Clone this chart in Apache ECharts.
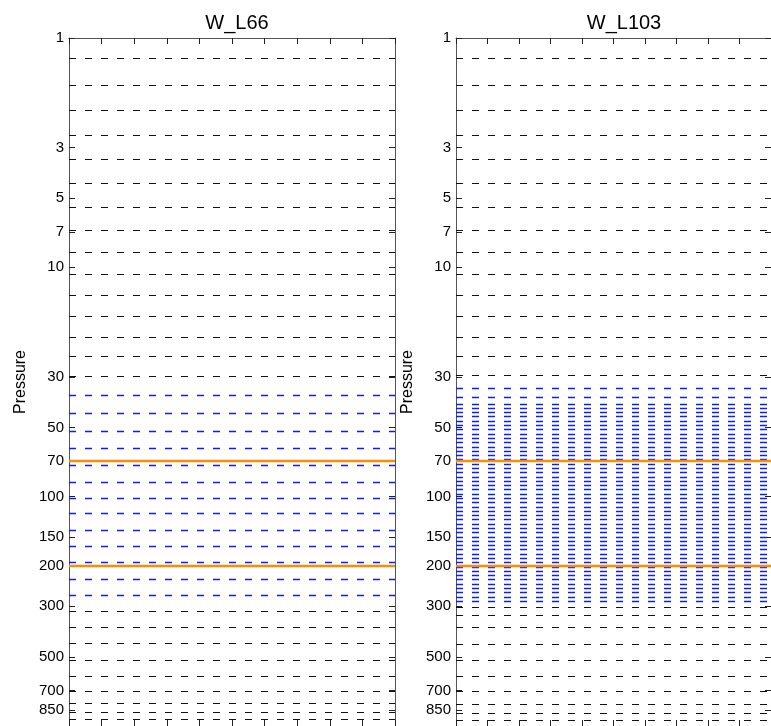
<!DOCTYPE html>
<html>
<head>
<meta charset="utf-8">
<script src="https://cdn.jsdelivr.net/npm/echarts@6/dist/echarts.min.js"></script>
<style>
  html, body { margin: 0; padding: 0; background: #fff; }
  #chart { width: 771px; height: 726px; }
</style>
</head>
<body>
<div id="chart"></div>
<script>
// Panel titles (vertical grid configurations)
const panelTitles = ['W_L66', 'W_L103'];

// Pressure tick labels on the vertical axis (hPa)
const pressureTicks = [1, 3, 5, 7, 10, 30, 50, 70, 100, 150, 200, 300, 500, 700, 850];

// Reference pressures drawn as solid orange lines (hPa)
const markerLevels = [70, 200];

// W_L66 model levels (hPa): upper, refined (blue) and lower bands
const l66Upper = [1.23, 1.60, 2.06, 2.66, 3.38, 4.30, 5.45, 6.86, 8.57, 10.7, 13.3, 16.4, 20.1, 24.5, 29.8];
const l66Mid = [36.0, 43.3, 52.0, 61.8, 73.3, 86.1, 101.3, 118.6, 140, 165, 194, 228, 268];
const l66Lower = [316, 372, 437, 517, 606, 702, 797, 875, 938];

// W_L103 model levels (hPa)
const l103Upper = [1.23, 1.60, 2.06, 2.66, 3.38, 4.30, 5.45, 6.86, 8.57, 10.7, 13.3, 16.4, 20.1, 24.5, 29.6];
const l103Mid = [33.6, 36.7, 39.4, 41.1, 43.0, 44.8, 46.8, 48.9, 51.0, 53.3, 55.6, 58.0, 60.6, 63.3,
  66.0, 69.0, 72.0, 75.1, 78.5, 81.9, 85.5, 89.3, 93.2, 97.3, 101.6, 106.0, 110.7, 115.6, 120.6,
  125.9, 131.5, 137.3, 143.3, 149.6, 156.2, 163.0, 170.2, 177.7, 185.5, 193.7, 202.2, 211.1,
  220.4, 230.0, 240.2, 250.7, 261.7, 273.3, 285.3];
const l103Lower = [303, 328, 372, 438, 517, 606, 702, 800, 878, 940];

const panels = [
  { title: panelTitles[0], black: l66Upper.concat(l66Lower), blue: l66Mid },
  { title: panelTitles[1], black: l103Upper.concat(l103Lower), blue: l103Mid }
];

const FONT = '"Liberation Sans", Arial, Helvetica, sans-serif';
const gridLefts = [69, 456];
const gridWidth = 326;
const gridTop = 38;
const gridHeight = 690;
const dashPattern = [7, 9];

const chart = echarts.init(document.getElementById('chart'), null, { renderer: 'canvas' });

const grids = [], xAxes = [], yAxes = [], series = [], titles = [];

panels.forEach((panel, i) => {
  grids.push({ left: gridLefts[i], top: gridTop, width: gridWidth, height: gridHeight, containLabel: false });

  titles.push({
    text: panel.title,
    left: gridLefts[i] + gridWidth / 2,
    top: 8,
    textAlign: 'center',
    textStyle: { fontFamily: FONT, fontSize: 20, fontWeight: 'normal', color: '#000' }
  });

  ['bottom', 'top'].forEach(pos => {
    xAxes.push({
      gridIndex: i, type: 'value', position: pos, min: 0, max: 10, interval: 1,
      axisLine: { show: true, onZero: false, lineStyle: { color: '#555', width: 1 } },
      axisTick: { show: true, inside: true, length: 6, lineStyle: { color: '#222' } },
      axisLabel: { show: false },
      splitLine: { show: false }
    });
  });

  ['left', 'right'].forEach(side => {
    yAxes.push({
      gridIndex: i, type: 'log', logBase: 10, min: 1, max: 1000, inverse: true, position: side,
      name: side === 'left' ? 'Pressure' : '',
      nameLocation: 'middle', nameGap: 40, nameRotate: 90,
      nameTextStyle: { fontFamily: FONT, fontSize: 16, color: '#000' },
      axisLine: { show: true, onZero: false, lineStyle: { color: '#555', width: 1 } },
      axisTick: { show: true, inside: true, length: 6, customValues: pressureTicks, lineStyle: { color: '#222' } },
      axisLabel: { show: side === 'left', customValues: pressureTicks, fontFamily: FONT, fontSize: 15, color: '#000', margin: 5 },
      splitLine: { show: false },
      minorTick: { show: false }
    });
  });

  const xi = i * 2, yi = i * 2;
  const levelSeries = (name, levels, color, type, width, z) => ({
    name, type: 'line', xAxisIndex: xi, yAxisIndex: yi, data: [], silent: true, z,
    markLine: {
      silent: true, symbol: ['none', 'none'], animation: false,
      label: { show: false },
      lineStyle: { color, type, width },
      emphasis: { disabled: true },
      data: levels.map(v => ({ yAxis: v }))
    }
  });

  series.push(levelSeries(panel.title + ' levels', panel.black, '#111', dashPattern, 1.2, 2));
  series.push(levelSeries(panel.title + ' refined', panel.blue, '#0a1eff', dashPattern, 1.4, 3));
  series.push(levelSeries(panel.title + ' markers', markerLevels, '#ff8c00', 'solid', 2.3, 4));
});

chart.setOption({
  animation: false,
  backgroundColor: '#fff',
  title: titles,
  grid: grids,
  xAxis: xAxes,
  yAxis: yAxes,
  series
});
</script>
</body>
</html>
